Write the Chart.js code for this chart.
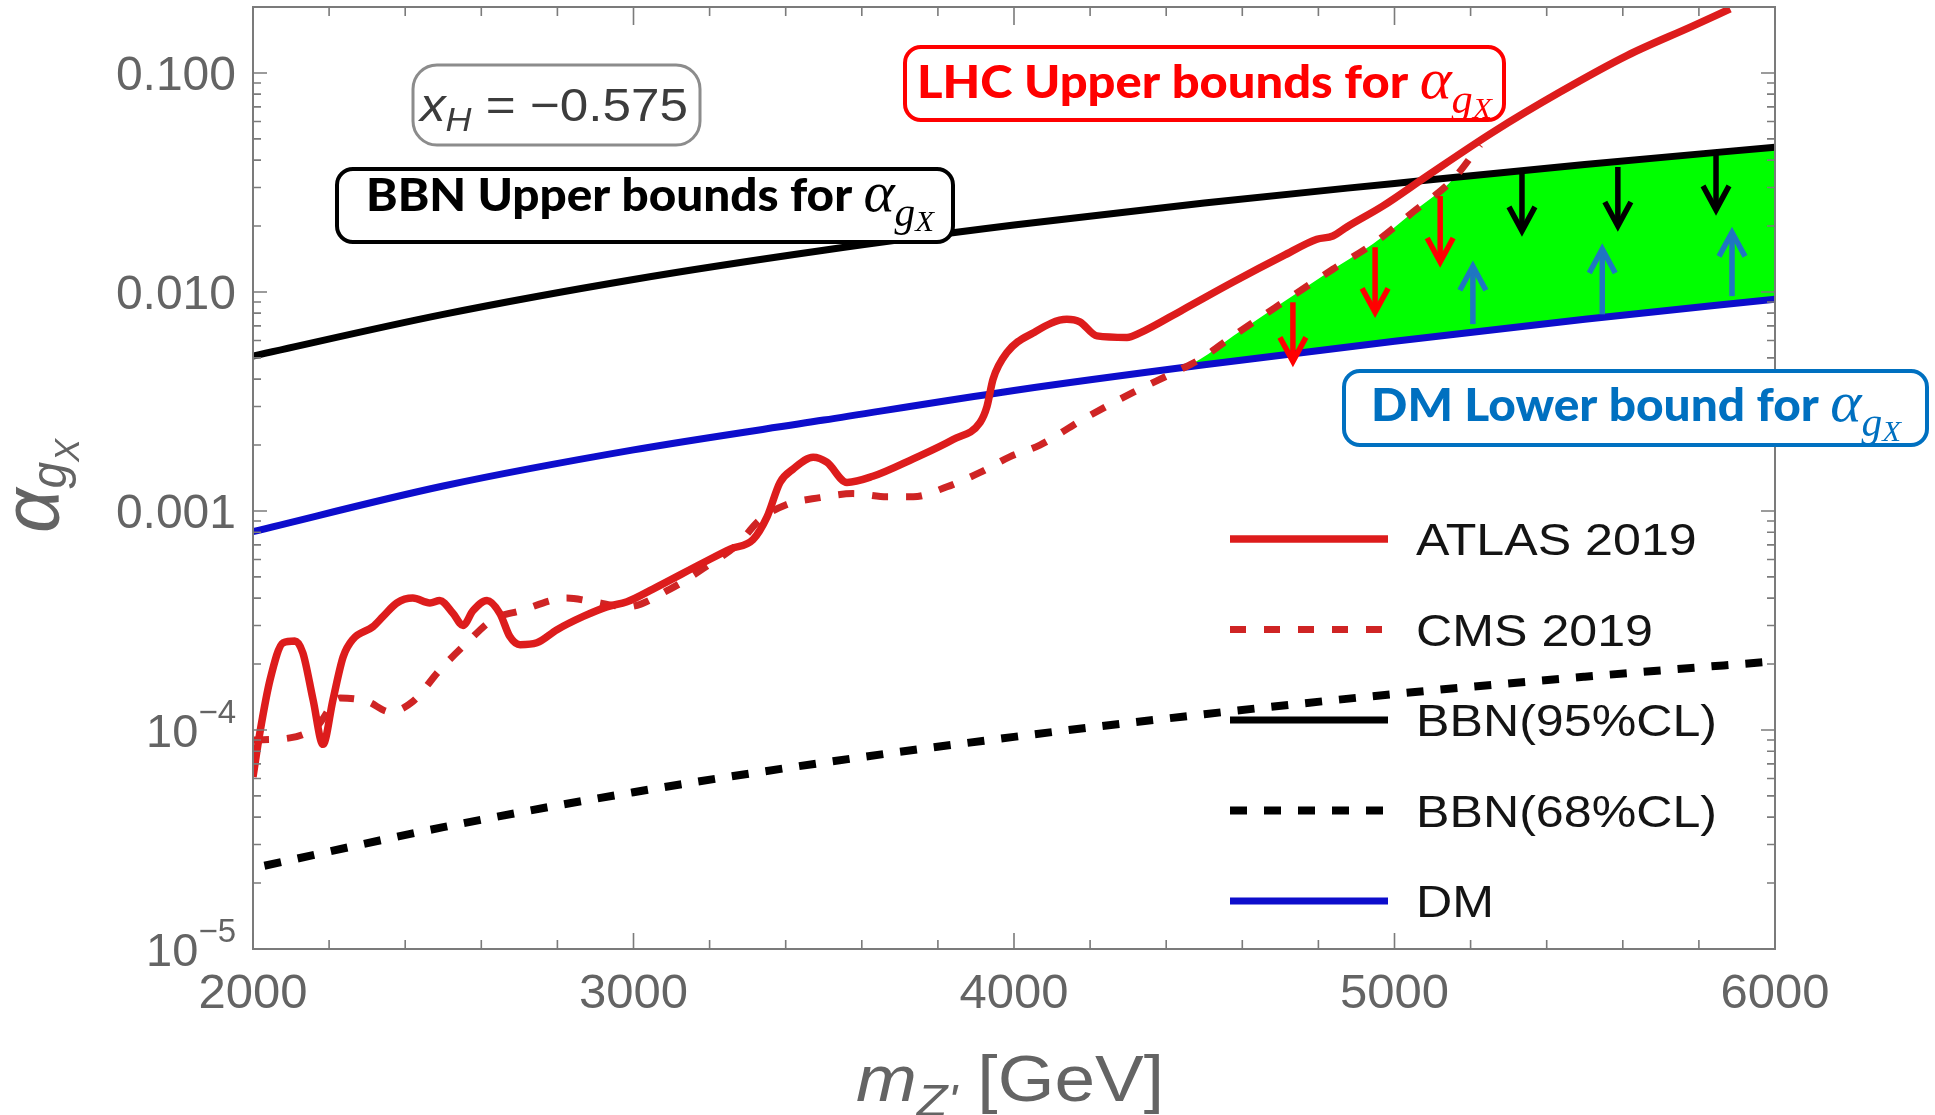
<!DOCTYPE html>
<html lang="en">
<head>
<meta charset="UTF-8">
<title>alpha_gX bounds vs m_Z'</title>
<script src="https://cdn.jsdelivr.net/npm/chart.js"></script>
<style>
  html, body { margin: 0; padding: 0; background: #fff; }
  .wrap { position: relative; width: 1935px; height: 1115px; }
</style>
</head>
<body>
<div class="wrap"><canvas id="boundsChart"></canvas></div>
<script>
// ---- values (m_Z' in GeV, alpha_gX) ----
const atlasMass = [2000, 2018, 2045, 2079, 2110, 2131, 2158, 2184, 2210, 2237, 2263, 2315, 2342, 2378, 2420, 2465, 2491, 2526, 2552, 2578, 2615, 2649, 2675, 2702, 2746, 2799, 2868, 2930, 2983, 3051, 3183, 3254, 3314, 3351, 3385, 3419, 3472, 3508, 3561, 3629, 3735, 3840, 3911, 3929, 3945, 3982, 4050, 4139, 4173, 4218, 4297, 4331, 4444, 4576, 4707, 4796, 4838, 4875, 4970, 5085, 5259, 5435, 5611, 5785, 5882];
const atlasAlpha = [6.1e-5, 9.7e-5, 1.7e-4, 2.5e-4, 2.55e-4, 2.25e-4, 1.37e-4, 8.6e-5, 1.37e-4, 2.16e-4, 2.6e-4, 2.96e-4, 3.3e-4, 3.8e-4, 4.0e-4, 3.8e-4, 3.9e-4, 3.4e-4, 3.0e-4, 3.5e-4, 3.9e-4, 3.4e-4, 2.67e-4, 2.45e-4, 2.5e-4, 2.87e-4, 3.3e-4, 3.65e-4, 3.85e-4, 4.4e-4, 5.8e-4, 6.7e-4, 7.4e-4, 9.4e-4, 1.35e-3, 1.55e-3, 1.76e-3, 1.67e-3, 1.35e-3, 1.44e-3, 1.73e-3, 2.12e-3, 2.54e-3, 3.0e-3, 4.0e-3, 5.3e-3, 6.5e-3, 7.5e-3, 7.3e-3, 6.3e-3, 6.2e-3, 6.5e-3, 8.3e-3, 0.0111, 0.0146, 0.0174, 0.018, 0.0198, 0.0247, 0.0338, 0.0537, 0.0818, 0.12, 0.164, 0.196];

const cmsMass = [2000, 2097, 2168, 2229, 2300, 2360, 2420, 2491, 2562, 2631, 2702, 2825, 2894, 2983, 3096, 3193, 3272, 3332, 3403, 3490, 3577, 3666, 3735, 3824, 3911, 3990, 4068, 4181, 4313, 4428, 4489, 4576, 4707, 4838, 4944, 5049, 5154, 5225];
const cmsAlpha = [9.0e-5, 9.2e-5, 1.04e-4, 1.4e-4, 1.35e-4, 1.21e-4, 1.35e-4, 1.88e-4, 2.5e-4, 3.2e-4, 3.5e-4, 4.0e-4, 3.85e-4, 3.65e-4, 4.4e-4, 5.6e-4, 7.0e-4, 9.1e-4, 1.07e-3, 1.15e-3, 1.2e-3, 1.16e-3, 1.16e-3, 1.29e-3, 1.5e-3, 1.77e-3, 2.0e-3, 2.62e-3, 3.48e-3, 4.35e-3, 4.93e-3, 6.3e-3, 8.97e-3, 0.0127, 0.0166, 0.0232, 0.0327, 0.047];

const gridMass = [2000, 2500, 3000, 3500, 4000, 4500, 5000, 5500, 6000];
const bbn95Alpha = [0.0051, 0.0079, 0.0114, 0.0155, 0.0202, 0.0255, 0.0313, 0.0382, 0.0458];
const dmAlpha = [8.05e-4, 1.3e-3, 1.9e-3, 2.6e-3, 3.55e-3, 4.65e-3, 5.95e-3, 7.5e-3, 9.27e-3];

const bbn68Mass = [2030, 2500, 3000, 3500, 4000, 4500, 5000, 5500, 6000];
const bbn68Alpha = [2.4e-5, 3.6e-5, 5.2e-5, 7.1e-5, 9.3e-5, 1.18e-4, 1.46e-4, 1.75e-4, 2.06e-4];

// arrows: mass, tail value, head value
const redArrowMass = [4733, 4949, 5120];
const redArrowFrom = [8.97e-3, 0.016, 0.0274];
const redArrowTo = [4.82e-3, 8.07e-3, 0.0137];
const blackArrowMass = [5335, 5587, 5845];
const blackArrowFrom = [0.0364, 0.0372, 0.044];
const blackArrowTo = [0.019, 0.020, 0.0237];
const blueArrowMass = [5206, 5546, 5887];
const blueArrowFrom = [7.13e-3, 7.9e-3, 9.57e-3];
const blueArrowTo = [0.0131, 0.0157, 0.0187];

const xTickValues = [2000, 3000, 4000, 5000, 6000];
const xTickLabels = ['2000', '3000', '4000', '5000', '6000'];
const yTickValues = [1e-5, 1e-4, 1e-3, 1e-2, 1e-1];
const yTickLabels = ['10^-5', '10^-4', '0.001', '0.010', '0.100'];

// ---- look ----
const FONT = '"Liberation Sans", Arial, sans-serif';
const BOX_FONT = 'Lato, "Open Sans", sans-serif';
const MATH_FONT = '"Liberation Serif", "DejaVu Serif", serif';
const AXIS_GREY = '#7b7b7b';
const LABEL_GREY = '#646464';
const GREEN = '#00ff00';

function pairs(xs, ys) {
  return xs.map((x, i) => ({x: x, y: ys[i]}));
}

function measureRuns(ctx, runs) {
  let w = 0;
  for (const r of runs) {
    ctx.font = r.f;
    r.w = ctx.measureText(r.t).width;
    w += r.w;
  }
  return w;
}

// draws a row of differently styled text pieces
function drawRuns(ctx, runs, x, y, opts) {
  const o = Object.assign({align: 'left', sx: 1, sy: 1, color: '#000', fit: 0}, opts);
  ctx.save();
  const natural = measureRuns(ctx, runs);
  const sx = o.fit ? o.fit / natural : o.sx;
  const w = natural * sx;
  const x0 = o.align === 'right' ? x - w : (o.align === 'center' ? x - w / 2 : x);
  ctx.translate(x0, y);
  ctx.scale(sx, o.sy);
  ctx.fillStyle = o.color;
  ctx.textAlign = 'left';
  ctx.textBaseline = 'alphabetic';
  let cx = 0;
  for (const r of runs) {
    ctx.font = r.f;
    ctx.fillText(r.t, cx, r.dy || 0);
    cx += r.w;
  }
  ctx.restore();
  return w;
}

function alphaRuns(s) {
  return [
    {t: 'α', f: `italic ${s}px ${MATH_FONT}`},
    {t: 'g', f: `italic ${Math.round(s * 0.7)}px ${MATH_FONT}`, dy: Math.round(s * 0.26)},
    {t: 'X', f: `italic ${Math.round(s * 0.52)}px ${MATH_FONT}`, dy: Math.round(s * 0.36)}
  ];
}

function roundBox(ctx, x, y, w, h, r, color, lw) {
  ctx.save();
  ctx.beginPath();
  ctx.moveTo(x + r, y);
  ctx.lineTo(x + w - r, y);
  ctx.arcTo(x + w, y, x + w, y + r, r);
  ctx.lineTo(x + w, y + h - r);
  ctx.arcTo(x + w, y + h, x + w - r, y + h, r);
  ctx.lineTo(x + r, y + h);
  ctx.arcTo(x, y + h, x, y + h - r, r);
  ctx.lineTo(x, y + r);
  ctx.arcTo(x, y, x + r, y, r);
  ctx.closePath();
  ctx.fillStyle = '#fff';
  ctx.fill();
  ctx.lineWidth = lw;
  ctx.strokeStyle = color;
  ctx.stroke();
  ctx.restore();
}

// append the (curved) line of a dataset to the current path
function tracePath(ctx, chart, index) {
  const line = chart.getDatasetMeta(index).dataset;
  if (line && typeof line.path === 'function') {
    line.path(ctx);
  } else {
    line.points.forEach((p, i) => (i ? ctx.lineTo(p.x, p.y) : ctx.moveTo(p.x, p.y)));
  }
  return line.points;
}

const IDX = {atlas: 0, cms: 1, bbn95: 2, bbn68: 3, dm: 4};

function drawAllowedRegion(chart) {
  const ctx = chart.ctx;
  const a = chart.chartArea;
  ctx.save();
  ctx.beginPath();
  ctx.rect(a.left, a.top, a.right - a.left, a.bottom - a.top);
  ctx.clip();

  // below BBN 95% CL
  ctx.beginPath();
  let pts = tracePath(ctx, chart, IDX.bbn95);
  ctx.lineTo(pts[pts.length - 1].x, a.bottom);
  ctx.lineTo(pts[0].x, a.bottom);
  ctx.closePath();
  ctx.clip();

  // below CMS (no limit past its last point)
  ctx.beginPath();
  pts = tracePath(ctx, chart, IDX.cms);
  ctx.lineTo(pts[pts.length - 1].x, a.top);
  ctx.lineTo(a.right, a.top);
  ctx.lineTo(a.right, a.bottom);
  ctx.lineTo(pts[0].x, a.bottom);
  ctx.closePath();
  ctx.clip();

  // above DM
  ctx.beginPath();
  pts = tracePath(ctx, chart, IDX.dm);
  ctx.lineTo(pts[pts.length - 1].x, a.top);
  ctx.lineTo(pts[0].x, a.top);
  ctx.closePath();
  ctx.fillStyle = GREEN;
  ctx.fill();
  ctx.restore();
}

function drawArrow(ctx, x, y0, y1, color) {
  const dir = Math.sign(y1 - y0);
  ctx.save();
  ctx.strokeStyle = color;
  ctx.lineWidth = 5.5;
  ctx.lineCap = 'butt';
  ctx.lineJoin = 'miter';
  ctx.beginPath();
  ctx.moveTo(x, y0);
  ctx.lineTo(x, y1 - dir * 2);
  ctx.stroke();
  ctx.beginPath();
  ctx.moveTo(x - 13, y1 - dir * 24);
  ctx.lineTo(x, y1);
  ctx.lineTo(x + 13, y1 - dir * 24);
  ctx.stroke();
  ctx.restore();
}

function drawArrows(chart) {
  const ctx = chart.ctx;
  const xs = chart.scales.x, ys = chart.scales.y;
  const sets = [
    [redArrowMass, redArrowFrom, redArrowTo, '#ff0000'],
    [blackArrowMass, blackArrowFrom, blackArrowTo, '#000000'],
    [blueArrowMass, blueArrowFrom, blueArrowTo, '#1f76c2']
  ];
  sets.forEach(([m, from, to, color]) => {
    m.forEach((mass, i) => {
      drawArrow(ctx, xs.getPixelForValue(mass), ys.getPixelForValue(from[i]), ys.getPixelForValue(to[i]), color);
    });
  });
}

function drawFrame(chart) {
  const ctx = chart.ctx;
  const a = chart.chartArea;
  const xs = chart.scales.x, ys = chart.scales.y;
  ctx.save();
  ctx.strokeStyle = AXIS_GREY;
  ctx.lineWidth = 2;
  ctx.strokeRect(a.left, a.top, a.right - a.left, a.bottom - a.top);
  ctx.lineWidth = 1.6;
  ctx.beginPath();
  for (let m = xs.min; m <= xs.max; m += 200) {
    const px = xs.getPixelForValue(m);
    const major = m % 1000 === 0;
    ctx.moveTo(px, a.bottom);
    ctx.lineTo(px, a.bottom - (major ? 16 : 9));
    ctx.moveTo(px, a.top);
    ctx.lineTo(px, a.top + (major ? 18 : 9));
  }
  for (let d = -5; d <= 0; d++) {
    for (let k = 1; k <= 9; k++) {
      const v = k * Math.pow(10, d);
      if (v >= ys.max || v < ys.min) continue;
      const py = ys.getPixelForValue(v);
      const len = k === 1 ? 14 : 8;
      ctx.moveTo(a.left, py);
      ctx.lineTo(a.left + len, py);
      ctx.moveTo(a.right, py);
      ctx.lineTo(a.right - len, py);
    }
  }
  ctx.stroke();
  ctx.restore();

  // tick labels
  xTickValues.forEach((v, i) => {
    drawRuns(ctx, [{t: xTickLabels[i], f: `49px ${FONT}`}], xs.getPixelForValue(v), a.bottom + 59,
      {align: 'center', color: LABEL_GREY});
  });
  yTickValues.forEach((v, i) => {
    const py = ys.getPixelForValue(v);
    const lab = yTickLabels[i];
    let runs;
    if (lab.indexOf('^') >= 0) {
      const parts = lab.split('^');
      runs = [{t: parts[0], f: `47px ${FONT}`}, {t: parts[1].replace('-', '−'), f: `33px ${FONT}`, dy: -24}];
    } else {
      runs = [{t: lab, f: `48px ${FONT}`}];
    }
    drawRuns(ctx, runs, a.left - 17, py + 17, {align: 'right', color: LABEL_GREY});
  });
}

function drawLegend(chart) {
  const ctx = chart.ctx;
  const rowTop = 539, step = 90.5, x0 = 1230, x1 = 1388, tx = 1416;
  chart.data.datasets.forEach((ds, i) => {
    const y = rowTop + i * step;
    ctx.save();
    ctx.strokeStyle = ds.borderColor;
    ctx.lineWidth = ds.borderWidth;
    ctx.setLineDash(ds.borderDash || []);
    ctx.lineCap = 'butt';
    ctx.beginPath();
    ctx.moveTo(x0, y);
    ctx.lineTo(x1, y);
    ctx.stroke();
    ctx.restore();
    drawRuns(ctx, [{t: ds.label, f: `44px ${FONT}`}], tx, y + 16, {sx: 1.14, color: '#141414'});
  });
}

function drawNotes(chart) {
  const ctx = chart.ctx;

  // x_H box
  roundBox(ctx, 413, 65, 287, 80, 24, '#8c8c8c', 3);
  drawRuns(ctx, [
    {t: 'x', f: `italic 47px ${FONT}`},
    {t: 'H', f: `italic 33px ${FONT}`, dy: 10},
    {t: ' = −0.575', f: `47px ${FONT}`}
  ], 420, 121, {fit: 268, color: '#3c3c3c'});

  // BBN box
  roundBox(ctx, 337, 169, 616, 73, 16, '#000000', 4);
  drawRuns(ctx, [{t: 'BBN Upper bounds for ', f: `900 45px ${BOX_FONT}`}].concat(alphaRuns(56)),
    366, 211, {fit: 568, color: '#000000'});

  // LHC box
  roundBox(ctx, 905, 47, 599, 73, 16, '#ff0000', 4);
  drawRuns(ctx, [{t: 'LHC Upper bounds for ', f: `900 45px ${BOX_FONT}`}].concat(alphaRuns(56)),
    917, 98, {fit: 575, color: '#ff0000'});

  // DM box
  roundBox(ctx, 1344, 371, 583, 74, 16, '#0070c0', 4);
  drawRuns(ctx, [{t: 'DM Lower bound for ', f: `900 45px ${BOX_FONT}`}].concat(alphaRuns(56)),
    1371, 421, {fit: 530, color: '#0070c0'});

  // axis titles
  drawRuns(ctx, [
    {t: 'm', f: `italic 64px ${FONT}`},
    {t: 'Z\'', f: `italic 44px ${FONT}`, dy: 15},
    {t: ' [GeV]', f: `64px ${FONT}`}
  ], 856, 1101, {fit: 308, color: LABEL_GREY});

  ctx.save();
  ctx.translate(58, 533);
  ctx.rotate(-Math.PI / 2);
  drawRuns(ctx, [
    {t: 'α', f: `italic 62px ${FONT}`},
    {t: 'g', f: `italic 38px ${FONT}`, dy: 6},
    {t: 'X', f: `italic 27px ${FONT}`, dy: 16}
  ], 0, 0, {fit: 94, sy: 1.3, color: LABEL_GREY});
  ctx.restore();
}

const boundsPlugin = {
  id: 'bounds',
  beforeDatasetsDraw(chart) { drawAllowedRegion(chart); },
  afterDatasetsDraw(chart) {
    drawArrows(chart);
    drawFrame(chart);
    drawLegend(chart);
  },
  afterDraw(chart) { drawNotes(chart); }
};

const ctx = document.getElementById('boundsChart').getContext('2d');
new Chart(ctx, {
  type: 'line',
  data: {
    datasets: [
      {
        label: 'ATLAS 2019',
        data: pairs(atlasMass, atlasAlpha),
        borderColor: '#dd1c1c',
        borderWidth: 7.5
      },
      {
        label: 'CMS 2019',
        data: pairs(cmsMass, cmsAlpha),
        borderColor: '#cf2424',
        borderWidth: 7,
        borderDash: [16, 18]
      },
      {
        label: 'BBN(95%CL)',
        data: pairs(gridMass, bbn95Alpha),
        borderColor: '#000000',
        borderWidth: 7
      },
      {
        label: 'BBN(68%CL)',
        data: pairs(bbn68Mass, bbn68Alpha),
        borderColor: '#000000',
        borderWidth: 8,
        borderDash: [17, 17]
      },
      {
        label: 'DM',
        data: pairs(gridMass, dmAlpha),
        borderColor: '#0d0dcc',
        borderWidth: 7
      }
    ]
  },
  options: {
    responsive: true,
    maintainAspectRatio: false,
    animation: false,
    devicePixelRatio: 1,
    layout: {
      padding: {left: 253, right: 160, top: 7, bottom: 166}
    },
    elements: {
      point: {radius: 0, hoverRadius: 0},
      line: {cubicInterpolationMode: 'monotone', borderCapStyle: 'butt', fill: false}
    },
    plugins: {
      legend: {display: false},
      tooltip: {enabled: false}
    },
    scales: {
      x: {type: 'linear', min: 2000, max: 6000, display: false},
      y: {type: 'logarithmic', min: 1e-5, max: 0.2, display: false}
    }
  },
  plugins: [boundsPlugin]
});
</script>
</body>
</html>
